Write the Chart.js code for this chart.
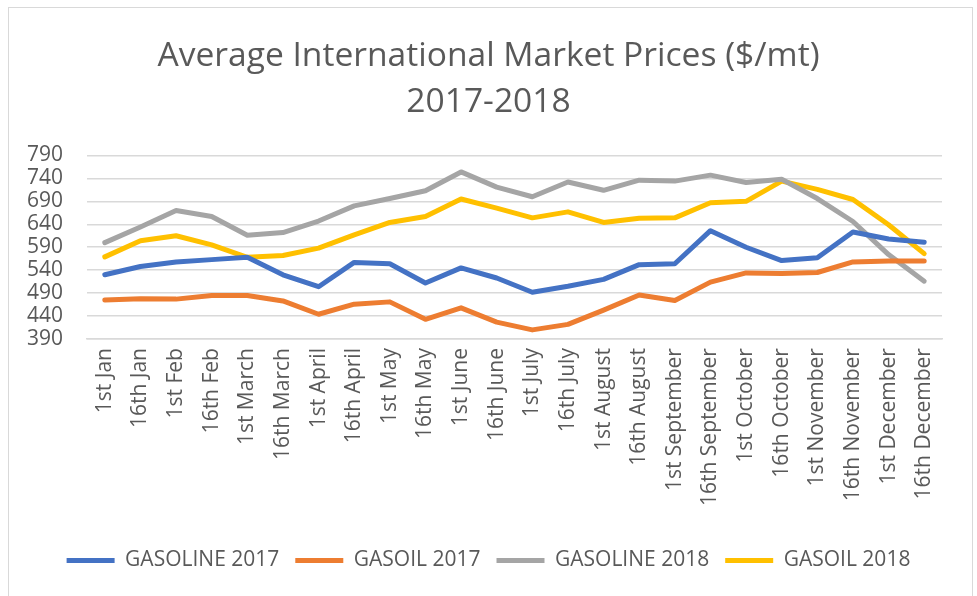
<!DOCTYPE html>
<html>
<head>
<meta charset="utf-8">
<script src="https://cdn.jsdelivr.net/npm/chart.js@4/dist/chart.umd.min.js"></script>
<style>
    html, body { margin: 0; padding: 0; background: #fff; }
    #wrap { position: relative; width: 977px; height: 596px; overflow: hidden; }
    #frame { position: absolute; left: 8px; top: 7px; width: 963px; height: 620px; border: 1px solid #d9d9d9; pointer-events: none; }
    #chart { position: absolute; left: 0; top: 0; }
</style>
</head>
<body>
<div id="wrap">
    <canvas id="chart" width="977" height="596"></canvas>
    <div id="frame"></div>
</div>
<script>
// Fechas (categorias)
const LABELS = [
    '1st Jan', '16th Jan', '1st Feb', '16th Feb', '1st March', '16th March',
    '1st April', '16th April', '1st May', '16th May', '1st June', '16th June',
    '1st July', '16th July', '1st August', '16th August', '1st September', '16th September',
    '1st October', '16th October', '1st November', '16th November', '1st December', '16th December'
];

// Series
const GASOLINE_2017 = [530, 548, 558, 563, 568, 530, 504, 557, 554, 512, 545, 523, 492, 505, 520, 552, 554, 626, 590, 561, 567, 623, 608, 601];
const GASOIL_2017   = [475, 478, 477, 485, 485, 473, 444, 466, 471, 433, 458, 427, 410, 422, 453, 486, 474, 514, 534, 533, 535, 558, 560, 560];
const GASOLINE_2018 = [600, 634, 670, 657, 616, 622, 647, 680, 696, 713, 754, 721, 700, 732, 714, 736, 734, 747, 731, 738, 696, 646, 574, 516];
const GASOIL_2018   = [569, 604, 615, 595, 568, 572, 588, 617, 644, 657, 695, 675, 654, 667, 644, 653, 654, 687, 690, 734, 716, 694, 639, 576];

const Y_MIN = 390, Y_MAX = 790, Y_STEP = 50;

const FONT = "'Open Sans', 'Liberation Sans', sans-serif";
const GREY_TEXT = '#595959';

function serie(label, data, color) {
    return {
        label: label,
        data: data,
        borderColor: color,
        backgroundColor: color,
        borderWidth: 5,
        pointRadius: 0,
        tension: 0,
        borderCapStyle: 'round',
        borderJoinStyle: 'round'
    };
}

const ctx = document.getElementById('chart');
const chart = new Chart(ctx, {
    type: 'line',
    data: {
        labels: LABELS,
        datasets: [
            serie('GASOLINE 2017', GASOLINE_2017, '#4472C4'),
            serie('GASOIL 2017', GASOIL_2017, '#ED7D31'),
            serie('GASOLINE 2018', GASOLINE_2018, '#A5A5A5'),
            serie('GASOIL 2018', GASOIL_2018, '#FFC000')
        ]
    },
    options: {
        responsive: false,
        animation: false,
        layout: { padding: { left: 0, right: 0, top: 0, bottom: 15 } },
        plugins: {
            title: {
                display: true,
                text: ['Average International Market Prices ($/mt)', '2017-2018'],
                color: GREY_TEXT,
                font: { family: FONT, size: 33.6, weight: 'normal', lineHeight: 1.36 },
                padding: { top: 34, bottom: 30 }
            },
            legend: {
                position: 'bottom',
                labels: {
                    color: GREY_TEXT,
                    font: { family: FONT, size: 21 },
                    boxWidth: 48,
                    boxHeight: 5,
                    padding: 16,
                    generateLabels: c => Chart.defaults.plugins.legend.labels.generateLabels(c).map(it => {
                        it.fillStyle = it.strokeStyle;
                        it.lineWidth = 0;
                        return it;
                    })
                }
            },
            tooltip: { enabled: false }
        },
        scales: {
            x: {
                offset: true,
                grid: { display: false, drawTicks: false },
                border: { display: true, color: '#d9d9d9', width: 1.5 },
                ticks: {
                    color: GREY_TEXT,
                    font: { family: FONT, size: 21 },
                    minRotation: 90,
                    maxRotation: 90,
                    autoSkip: false,
                    padding: 9
                },
                afterFit: s => { s.height += 19; }
            },
            y: {
                min: Y_MIN,
                max: Y_MAX,
                grid: { color: '#d9d9d9', lineWidth: 1.5, drawTicks: false },
                border: { display: false },
                ticks: {
                    stepSize: Y_STEP,
                    autoSkip: false,
                    color: GREY_TEXT,
                    font: { family: FONT, size: 21, lineHeight: 1 },
                    padding: 24
                },
                afterFit: s => { s.width = 87; }
            },
            // eje vacio a la derecha, solo reserva el margen
            yRight: {
                position: 'right',
                min: Y_MIN,
                max: Y_MAX,
                grid: { display: false, drawTicks: false },
                border: { display: false },
                ticks: { display: false },
                afterFit: s => { s.width = 35; }
            }
        }
    }
});
</script>
</body>
</html>
